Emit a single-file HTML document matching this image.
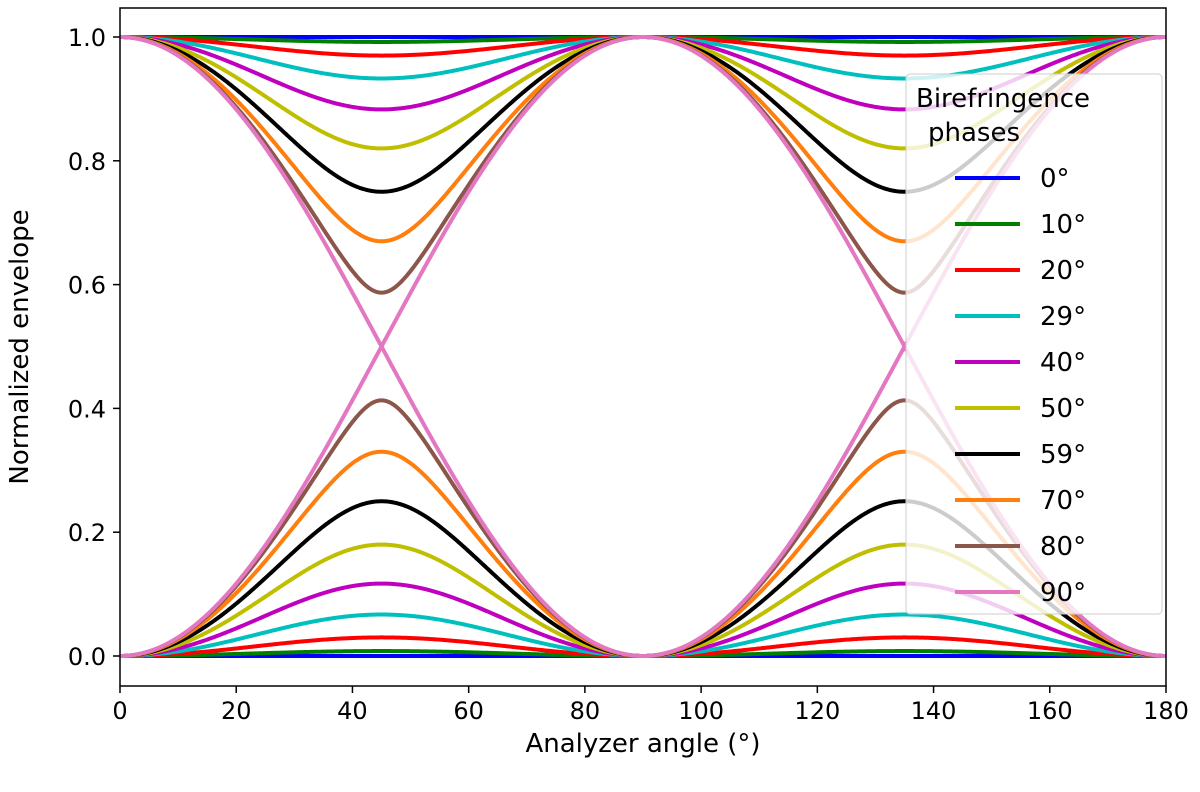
<!DOCTYPE html>
<html><head><meta charset="utf-8"><style>
body{margin:0;background:#fff;}
svg text{font-family:"DejaVu Sans","Liberation Sans",sans-serif;fill:#000;}
</style></head><body>
<svg id="chart" width="1200" height="787" xmlns="http://www.w3.org/2000/svg">
<g id="plot"></g>
<g id="axes"></g>
<g id="legend"></g>
</svg>
<script>
const phases = [0, 10, 20, 29, 40, 50, 59, 70, 80, 90];
const minAt45 = [1.0, 0.992, 0.97, 0.933, 0.883, 0.82, 0.75, 0.67, 0.587, 0.5];
const colors = ['#0000ff','#008000','#ff0000','#00bfbf','#bf00bf','#bfbf00','#000000','#ff7f0e','#8c564b','#e377c2'];
const xTicks = [0,20,40,60,80,100,120,140,160,180];
const yTicks = [0.0,0.2,0.4,0.6,0.8,1.0];
const NS='http://www.w3.org/2000/svg';
const L=120,R=1166,T=8,B=686;
const X=v=>L+(v-0)/180*(R-L);
const Y=v=>656-(v)*(656-37);
function mk(tag,attrs,parent){const e=document.createElementNS(NS,tag);for(const k in attrs)e.setAttribute(k,attrs[k]);parent.appendChild(e);return e;}
const plot=document.getElementById('plot'),axes=document.getElementById('axes'),leg=document.getElementById('legend');
phases.forEach((p,i)=>{
  const c=2*minAt45[i]-1; const s2=1-c*c;
  ['upper','lower'].forEach(side=>{
    let d='';
    for(let a=0;a<=180;a+=0.25){
      const s=Math.sin(2*a*Math.PI/180);
      const r=Math.sqrt(Math.max(0,1-s2*s*s));
      const v=side==='upper'?(1+r)/2:(1-r)/2;
      d+=(a===0?'M':'L')+X(a).toFixed(2)+','+Y(v).toFixed(2);
    }
    const path=mk('path',{d:d,fill:'none',stroke:colors[i],'stroke-width':4},plot);
    
    
  });
});
const frame=mk('rect',{x:L,y:T,width:R-L,height:B-T,fill:'none',stroke:'#000','stroke-width':1.5},axes);


xTicks.forEach(t=>{
  mk('line',{x1:X(t),x2:X(t),y1:B,y2:B+7,stroke:'#000','stroke-width':1.5},axes);
  const tx=mk('text',{x:X(t),y:B+33,'text-anchor':'middle','font-size':24},axes);
  tx.textContent=t;
  
  
});
yTicks.forEach(t=>{
  mk('line',{x1:L-7,x2:L,y1:Y(t),y2:Y(t),stroke:'#000','stroke-width':1.5},axes);
  const tx=mk('text',{x:L-14,y:Y(t)+9,'text-anchor':'end','font-size':24},axes);
  tx.textContent=t.toFixed(1);
  
  
});
const xt=mk('text',{x:(L+R)/2,y:752,'text-anchor':'middle','font-size':26},axes);
xt.textContent='Analyzer angle (°)';


const yt=mk('text',{x:0,y:0,'text-anchor':'middle','font-size':26,transform:'translate(28,347) rotate(-90)'},axes);
yt.textContent='Normalized envelope';


const box=mk('rect',{x:906,y:74,width:256,height:540,rx:4,fill:'#fff','fill-opacity':0.8,stroke:'#ccc','stroke-width':1},leg);


const t1=mk('text',{x:916,y:107,'font-size':26},leg);t1.textContent='Birefringence';


const t2=mk('text',{x:928,y:141,'font-size':26},leg);t2.textContent='phases';


phases.forEach((p,i)=>{
  const y=178+i*46;
  const g=mk('g',{},leg);
  
  
  mk('line',{x1:955,x2:1020,y1:y,y2:y,stroke:colors[i],'stroke-width':4},g);
  const tx=mk('text',{x:1040,y:y+9,'font-size':26},g);tx.textContent=p+'°';
});
</script>
</body></html>
